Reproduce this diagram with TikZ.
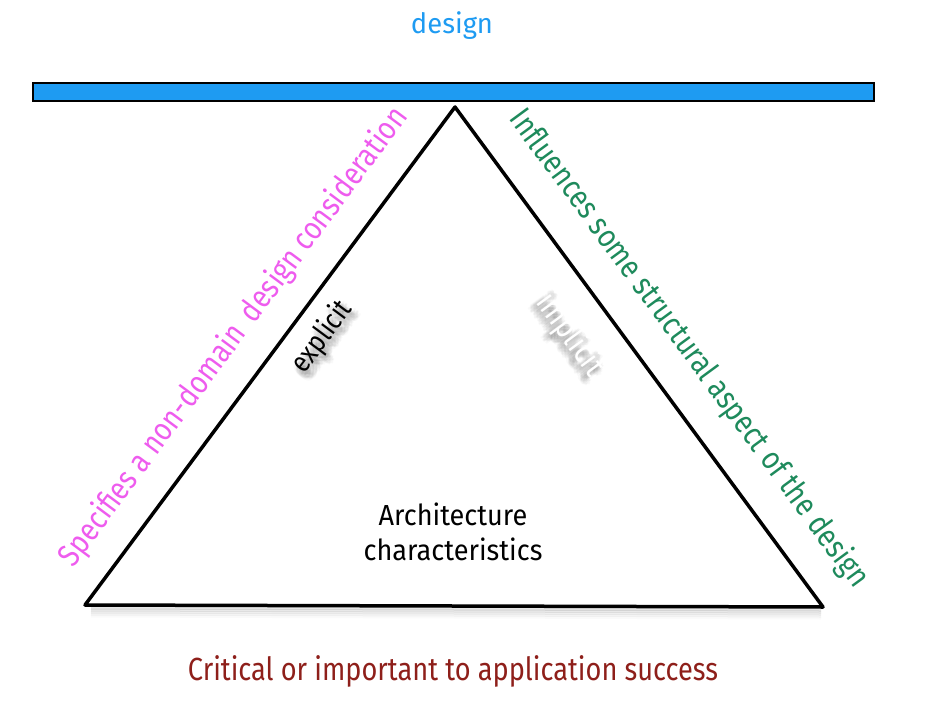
\documentclass[tikz,border=0pt]{standalone}
\usepackage{fontspec}
\setmainfont[FakeStretch=0.85]{Fira Sans}
\usetikzlibrary{calc}
\definecolor{barblue}{HTML}{1E9BF2}
\definecolor{specpink}{HTML}{EE5CEE}
\definecolor{inflgreen}{HTML}{1E8A5C}
\definecolor{critred}{HTML}{8E1F1A}
\tikzset{
  lbl/.style={inner sep=0pt, font=\fontsize{32}{36}\selectfont},
  edge/.style={line width=3.5pt, line join=round, line cap=round},
  haze/.style={inner sep=0pt, text=black, opacity=0.022},
}
% soft drop shadow: faint copies of a word spread over a small disc
\newcommand{\hazyword}[4]{% centre, angle, size, word
  \foreach \i in {-4.5,-3,...,4.5}{
    \foreach \j in {-4.5,-3,...,4.5}{
      \pgfmathtruncatemacro\insidedisc{(\i*\i+\j*\j)<=21 ? 1 : 0}
      \ifnum\insidedisc=1
        \node[haze, rotate=#2, font=\fontsize{#3}{#3}\selectfont] at ($(#1)+(\i,\j)$) {#4};
      \fi
    }
  }
}
\begin{document}
\begin{tikzpicture}[x=1pt,y=-1pt]
\useasboundingbox (0,0) rectangle (936,711);

% title and beam
\node[inner sep=0pt, font=\fontsize{28}{30}\selectfont, text=barblue, xscale=1.15] (design) at (452,26) {design};
\draw[fill=barblue, draw=black, line width=1.6pt] (33,83) rectangle (874,101);

% triangle corners
\coordinate (apex) at (455,107);
\coordinate (bl) at (85,605);
\coordinate (br) at (823,607);

% soft shadow under the base
\foreach \o/\a in {3/0.10,5/0.08,7/0.06,9/0.04,11/0.02}{
  \draw[line width=3pt, black, opacity=\a] ($(bl)+(6,\o)$) -- ($(br)+(-2,\o)$);
}
\draw[edge] (apex) -- (bl) -- (br) -- cycle;

% side labels
\node[lbl, text=specpink, rotate=53.4] (spec) at (234,337)
  {Specifies a non-domain\, design consideration};
\node[lbl, text=inflgreen, rotate=-53.7] (infl) at (689,349)
  {Influences some structural aspect of the design};

% inner labels with soft shadows
\hazyword{326,342}{53.4}{29}{explicit}
\node[inner sep=0pt, font=\fontsize{29}{32}\selectfont, rotate=53.4] (explicit) at (322,337) {explicit};
\hazyword{566,339}{-53.7}{32}{implicit}
\node[inner sep=0pt, font=\fontsize{32}{34}\selectfont, rotate=-53.7, text=white] (implicit) at (570,335) {implicit};

% centre text
\node[inner sep=0pt, font=\fontsize{29}{35}\selectfont, align=center, xscale=1.1] (arch) at (453,532)
  {Architecture\\characteristics};

% bottom label
\node[lbl, text=critred] (crit) at (453,671) {Critical or important to application success};
\end{tikzpicture}
\end{document}
